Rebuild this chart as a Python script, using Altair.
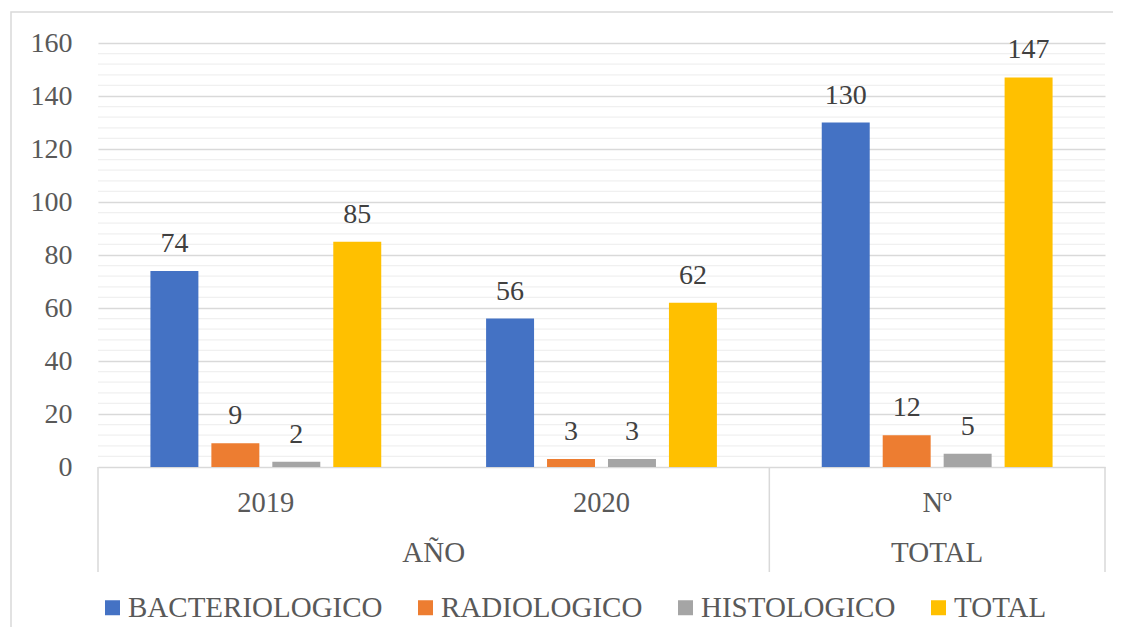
import altair as alt
import pandas as pd

groups = ["2019", "2020", "Nº"]
parents = ["AÑO", "AÑO", "TOTAL"]
series = ["BACTERIOLOGICO", "RADIOLOGICO", "HISTOLOGICO", "TOTAL"]
colors = ["#4472C4", "#ED7D31", "#A5A5A5", "#FFC000"]
bacteriologico = [74, 56, 130]
radiologico = [9, 3, 12]
histologico = [2, 3, 5]
total = [85, 62, 147]
y_ticks = [0, 20, 40, 60, 80, 100, 120, 140, 160]
minor_ticks = [4, 8, 12, 16, 24, 28, 32, 36, 44, 48, 52, 56, 64, 68, 72, 76,
               84, 88, 92, 96, 104, 108, 112, 116, 124, 128, 132, 136,
               144, 148, 152, 156]

rows = []
for i, g in enumerate(groups):
    for s, vals in zip(series, [bacteriologico, radiologico, histologico, total]):
        rows.append({"grupo": g, "serie": s, "valor": vals[i]})
df = pd.DataFrame(rows)
gdf = pd.DataFrame({"grupo": groups, "padre": parents})
minor_df = pd.DataFrame({"v": minor_ticks})

W, H = 1007, 424
FONT = "Liberation Serif"
FS = 28
TXT = "#595959"

xscale = alt.Scale(domain=groups, paddingInner=0, paddingOuter=0)
yscale = alt.Scale(domain=[0, 160], nice=False)
xoff_scale = alt.Scale(domain=series, paddingInner=0.213, paddingOuter=0.86)

minor = alt.Chart(minor_df).mark_rule(color="#f0f0f0", strokeWidth=1.3).encode(
    y=alt.Y("v:Q", scale=yscale),
    x=alt.value(0), x2=alt.value(W),
)

bars = alt.Chart(df).mark_bar().encode(
    x=alt.X("grupo:N", scale=xscale, axis=None, sort=groups),
    xOffset=alt.XOffset("serie:N", scale=xoff_scale, sort=series),
    y=alt.Y("valor:Q", scale=yscale,
            axis=alt.Axis(values=y_ticks, title=None, domain=False, ticks=False,
                          labelPadding=26, gridColor="#d9d9d9", gridWidth=1.3)),
    color=alt.Color("serie:N", scale=alt.Scale(domain=series, range=colors),
                    sort=series,
                    legend=alt.Legend(title=None, orient="none", direction="horizontal",
                                      legendX=0, legendY=550,
                                      symbolType="square", symbolSize=225,
                                      symbolStrokeWidth=0,
                                      labelLimit=0, labelOffset=1,
                                      columnPadding=28)),
)

labels = alt.Chart(df).mark_text(baseline="bottom", dy=-13, fontSize=FS,
                                 color="#404040").encode(
    x=alt.X("grupo:N", scale=xscale, sort=groups),
    xOffset=alt.XOffset("serie:N", scale=xoff_scale, sort=series),
    y=alt.Y("valor:Q", scale=yscale),
    text="valor:Q",
)

cat_labels = alt.Chart(gdf).mark_text(baseline="middle", fontSize=28.5,
                                      color=TXT).encode(
    x=alt.X("grupo:N", scale=xscale, sort=groups),
    y=alt.value(H + 36),
    text="grupo:N",
)

ano = alt.Chart(gdf[gdf.grupo == "2019"]).mark_text(baseline="middle",
                                                    fontSize=29, color=TXT).encode(
    x=alt.X("grupo:N", scale=xscale, sort=groups, bandPosition=1),
    y=alt.value(H + 86),
    text="padre:N",
)

tot = alt.Chart(gdf[gdf.grupo == "Nº"]).mark_text(baseline="middle",
                                                  fontSize=29, color=TXT).encode(
    x=alt.X("grupo:N", scale=xscale, sort=groups),
    y=alt.value(H + 86),
    text="padre:N",
)

sep_left = alt.Chart(gdf[gdf.grupo.isin(["2019", "Nº"])]).mark_rule(
    color="#d9d9d9", strokeWidth=1.5).encode(
    x=alt.X("grupo:N", scale=xscale, sort=groups, bandPosition=0),
    y=alt.value(H), y2=alt.value(H + 105),
)
sep_right = alt.Chart(gdf[gdf.grupo == "Nº"]).mark_rule(
    color="#d9d9d9", strokeWidth=1.5).encode(
    x=alt.X("grupo:N", scale=xscale, sort=groups, bandPosition=1),
    y=alt.value(H), y2=alt.value(H + 105),
)

border = alt.Chart(gdf.head(1)).mark_rect(fill="white", fillOpacity=0,
                                          stroke="#d9d9d9", strokeWidth=1.5).encode(
    x=alt.value(-87), x2=alt.value(W + 60),
    y=alt.value(-31), y2=alt.value(H + 250),
)

chart = alt.layer(border, minor, bars, labels, cat_labels, ano, tot,
                  sep_left, sep_right).properties(
    width=W, height=H,
    autosize=alt.AutoSizeParams(type="none"),
    padding={"left": 90, "top": 35, "right": 8, "bottom": 160},
).configure(
    font=FONT,
).configure_view(
    stroke=None
).configure_axis(
    labelFont=FONT, labelFontSize=FS, labelColor=TXT,
).configure_legend(
    labelFont=FONT, labelFontSize=29, labelColor=TXT,
).configure_text(
    font=FONT,
)

chart.save("out.html", embed_options={"renderer": "svg", "actions": False})
